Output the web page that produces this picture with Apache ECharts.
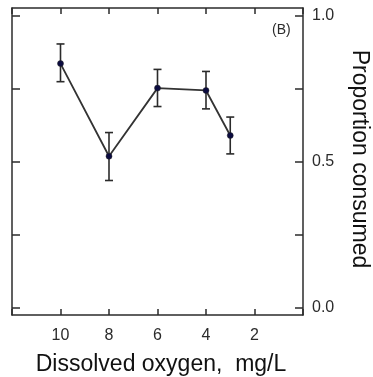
<!DOCTYPE html>
<html>
<head>
<meta charset="utf-8">
<script src="https://cdn.jsdelivr.net/npm/echarts@6/dist/echarts.min.js"></script>
<style>html,body{margin:0;padding:0;background:#fff}#c{width:373px;height:377px}</style>
</head>
<body>
<div id="c"></div>
<script>
// Data
var oxygen = [10, 8, 6, 4, 3];
var proportion = [0.835, 0.518, 0.751, 0.743, 0.589];
var errLow = [0.773, 0.435, 0.688, 0.680, 0.526];
var errHigh = [0.902, 0.599, 0.815, 0.808, 0.652];
var xTicks = [0, 2, 4, 6, 8, 10, 12];
var xLabels = [2, 4, 6, 8, 10];
var yTicks = [0, 0.25, 0.5, 0.75, 1.0];
var yLabels = [0, 0.5, 1.0];

var FONT = 'Liberation Sans, Arial, sans-serif';
var INK = '#2b2b2b';

var chart = echarts.init(document.getElementById('c'));
var lineData = oxygen.map(function (x, i) { return [x, proportion[i]]; });
var errData = oxygen.map(function (x, i) { return [x, errLow[i], errHigh[i]]; });

function axisLine() { return { show: true, onZero: false, lineStyle: { color: INK, width: 1.5 } }; }
var tickStyle = { lineStyle: { color: INK, width: 1.5 } };

chart.setOption({
  animation: false,
  grid: { left: 12, right: 70, top: 8, bottom: 62, containLabel: false },
  xAxis: [{
    type: 'value', min: 0, max: 12, inverse: true, position: 'bottom',
    axisLine: axisLine(),
    axisTick: Object.assign({ show: true, inside: true, length: 6, customValues: xTicks }, tickStyle),
    axisLabel: { customValues: xLabels, margin: 13, fontSize: 16, color: INK, fontFamily: FONT },
    splitLine: { show: false }
  }, {
    type: 'value', min: 0, max: 12, inverse: true, position: 'top',
    axisLine: axisLine(),
    axisTick: Object.assign({ show: true, inside: true, length: 6, customValues: xTicks }, tickStyle),
    axisLabel: { show: false },
    splitLine: { show: false }
  }],
  yAxis: [{
    type: 'value', min: -0.025, max: 1.025, position: 'right',
    axisLine: axisLine(),
    axisTick: Object.assign({ show: true, inside: true, length: 8, customValues: yTicks }, tickStyle),
    axisLabel: { customValues: yLabels, margin: 9, fontSize: 16, color: INK, fontFamily: FONT,
      formatter: function (v) { return v.toFixed(1); } },
    splitLine: { show: false }
  }, {
    type: 'value', min: -0.025, max: 1.025, position: 'left',
    axisLine: axisLine(),
    axisTick: Object.assign({ show: true, inside: true, length: 8, customValues: yTicks }, tickStyle),
    axisLabel: { show: false },
    splitLine: { show: false }
  }],
  graphic: [
    { type: 'text', left: 272, top: 23, style: { text: '(B)', fontSize: 14, fill: INK, fontFamily: FONT } },
    { type: 'text', x: 161, y: 365, style: { text: 'Dissolved oxygen,  mg/L', fontSize: 23, fill: '#111', fontFamily: FONT, align: 'center', verticalAlign: 'middle' } },
    { type: 'text', x: 359, y: 159, rotation: -Math.PI / 2, style: { text: 'Proportion consumed', fontSize: 23, fill: '#111', fontFamily: FONT, align: 'center', verticalAlign: 'middle' } }
  ],
  series: [{
    type: 'custom',
    xAxisIndex: 0, yAxisIndex: 0,
    data: errData,
    z: 3,
    renderItem: function (params, api) {
      var lo = api.coord([api.value(0), api.value(1)]);
      var hi = api.coord([api.value(0), api.value(2)]);
      var w = 4;
      var st = { stroke: INK, lineWidth: 1.6 };
      return { type: 'group', children: [
        { type: 'line', shape: { x1: lo[0], y1: lo[1], x2: hi[0], y2: hi[1] }, style: st },
        { type: 'line', shape: { x1: lo[0] - w, y1: lo[1], x2: lo[0] + w, y2: lo[1] }, style: st },
        { type: 'line', shape: { x1: hi[0] - w, y1: hi[1], x2: hi[0] + w, y2: hi[1] }, style: st }
      ]};
    }
  }, {
    type: 'line',
    xAxisIndex: 0, yAxisIndex: 0,
    data: lineData,
    z: 4,
    lineStyle: { color: '#333', width: 1.8 },
    symbol: 'circle', symbolSize: 6,
    itemStyle: { color: '#0b0b40', borderColor: '#222', borderWidth: 0.5 }
  }]
});
</script>
</body>
</html>
